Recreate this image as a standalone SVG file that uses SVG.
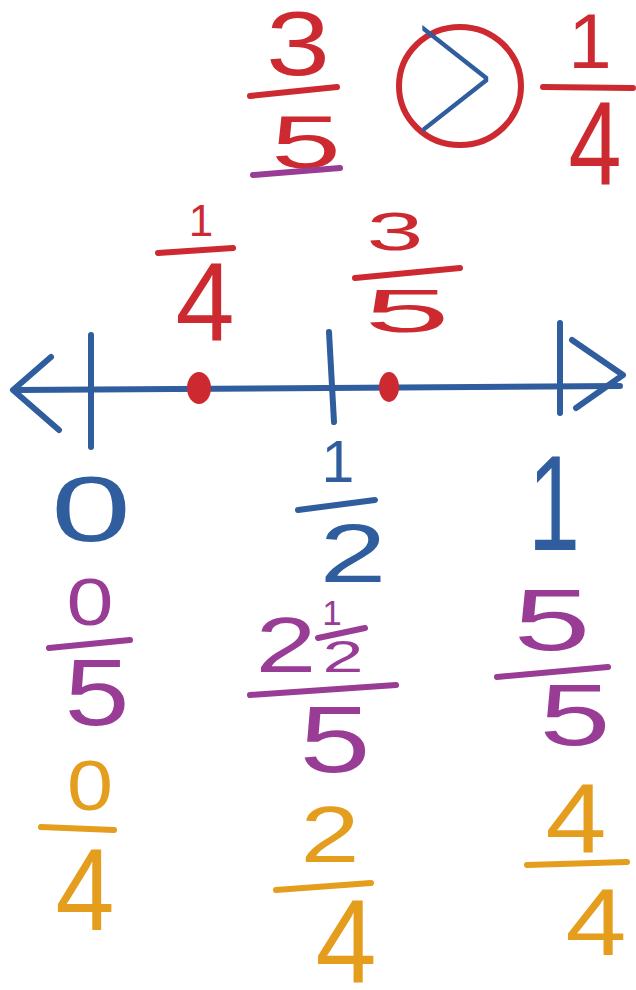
<svg xmlns="http://www.w3.org/2000/svg" width="636" height="990" viewBox="0 0 636 990">
<style>
text{font-family:"Liberation Sans",Arial,sans-serif;text-anchor:middle}
.r{fill:#cc2a30}.b{fill:#2f5d9e}.p{fill:#983c96}.o{fill:#e59d1e}
.sr{stroke:#cc2a30}.sb{stroke:#2f5d9e}.sp{stroke:#983c96}.so{stroke:#e59d1e}
line,polyline,ellipse{fill:none;stroke-width:6;stroke-linecap:round;stroke-linejoin:round}
</style>
<rect width="636" height="990" fill="#ffffff"/>
<g id="comparison">
<text class="r" x="298" y="75" font-size="91" textLength="64" lengthAdjust="spacingAndGlyphs">3</text>
<line class="sr" x1="250" y1="96" x2="337" y2="87"/>
<text class="r" x="306" y="168" font-size="74" textLength="70" lengthAdjust="spacingAndGlyphs">5</text>
<line class="sp" x1="253" y1="175" x2="340" y2="168"/>
<ellipse class="sr" cx="460" cy="86" rx="61" ry="59" stroke-width="5"/>
<text class="b" x="452" y="137" font-size="205" font-weight="100" style="font-family:Inter,'Liberation Sans',sans-serif" textLength="108" lengthAdjust="spacingAndGlyphs">&gt;</text>
<text class="r" x="590" y="68" font-size="78">1</text>
<line class="sr" x1="543" y1="87" x2="633" y2="88"/>
<text class="r" x="595" y="185" font-size="119" textLength="53" lengthAdjust="spacingAndGlyphs">4</text>
</g>
<g id="number-line">
<line class="sb" x1="15" y1="390" x2="620" y2="386"/>
<polyline class="sb" points="51,357 13,390 59,430"/>
<polyline class="sb" points="572,340 623,375 576,408"/>
<line class="sb" x1="91" y1="335" x2="91" y2="447"/>
<line class="sb" x1="329" y1="332" x2="334" y2="422"/>
<line class="sb" x1="560" y1="323" x2="560" y2="413"/>
</g>
<g id="point-one-fourth">
<ellipse class="r" cx="199" cy="388" rx="12" ry="16" style="stroke:none"/>
<text class="r" x="201" y="236" font-size="44">1</text>
<line class="sr" x1="158" y1="253" x2="233" y2="248"/>
<text class="r" x="205" y="340" font-size="112" textLength="59" lengthAdjust="spacingAndGlyphs">4</text>
</g>
<g id="point-three-fifths">
<ellipse class="r" cx="389" cy="387" rx="10" ry="15" style="stroke:none"/>
<text class="r" x="395" y="250" font-size="54" textLength="57" lengthAdjust="spacingAndGlyphs">3</text>
<line class="sr" x1="355" y1="278" x2="460" y2="268"/>
<text class="r" x="407" y="332" font-size="62" textLength="86" lengthAdjust="spacingAndGlyphs">5</text>
</g>
<g id="label-zero">
<text class="b" x="91" y="541" font-size="92" textLength="80" lengthAdjust="spacingAndGlyphs">0</text>
<text class="p" x="90" y="625" font-size="66" textLength="47" lengthAdjust="spacingAndGlyphs">0</text>
<line class="sp" x1="49" y1="648" x2="130" y2="640"/>
<text class="p" x="97" y="725" font-size="95" textLength="65" lengthAdjust="spacingAndGlyphs">5</text>
<text class="o" x="90" y="810" font-size="70" textLength="46" lengthAdjust="spacingAndGlyphs">0</text>
<line class="so" x1="41" y1="827" x2="114" y2="830"/>
<text class="o" x="85" y="930" font-size="116" textLength="59" lengthAdjust="spacingAndGlyphs">4</text>
</g>
<g id="label-half">
<text class="b" x="338" y="482" font-size="59">1</text>
<line class="sb" x1="298" y1="510" x2="375" y2="500"/>
<text class="b" x="353" y="582" font-size="84" textLength="67" lengthAdjust="spacingAndGlyphs">2</text>
<text class="p" x="286" y="672" font-size="77" textLength="61" lengthAdjust="spacingAndGlyphs">2</text>
<text class="p" x="332" y="625" font-size="35">1</text>
<line class="sp" x1="318" y1="638" x2="365" y2="628" stroke-width="5"/>
<text class="p" x="343" y="672" font-size="45" textLength="41" lengthAdjust="spacingAndGlyphs">2</text>
<line class="sp" x1="250" y1="695" x2="396" y2="685"/>
<text class="p" x="335" y="772" font-size="94" textLength="71" lengthAdjust="spacingAndGlyphs">5</text>
<text class="o" x="330" y="862" font-size="80" textLength="59" lengthAdjust="spacingAndGlyphs">2</text>
<line class="so" x1="276" y1="890" x2="371" y2="883"/>
<text class="o" x="346" y="983" font-size="119" textLength="61" lengthAdjust="spacingAndGlyphs">4</text>
</g>
<g id="label-one">
<text class="b" x="554" y="550" font-size="135" textLength="52" lengthAdjust="spacingAndGlyphs">1</text>
<text class="p" x="552" y="650" font-size="88" textLength="77" lengthAdjust="spacingAndGlyphs">5</text>
<line class="sp" x1="497" y1="677" x2="608" y2="667"/>
<text class="p" x="575" y="745" font-size="87" textLength="71" lengthAdjust="spacingAndGlyphs">5</text>
<text class="o" x="576" y="852" font-size="98" textLength="61" lengthAdjust="spacingAndGlyphs">4</text>
<line class="so" x1="527" y1="865" x2="627" y2="862"/>
<text class="o" x="596" y="955" font-size="95" textLength="61" lengthAdjust="spacingAndGlyphs">4</text>
</g>
</svg>
